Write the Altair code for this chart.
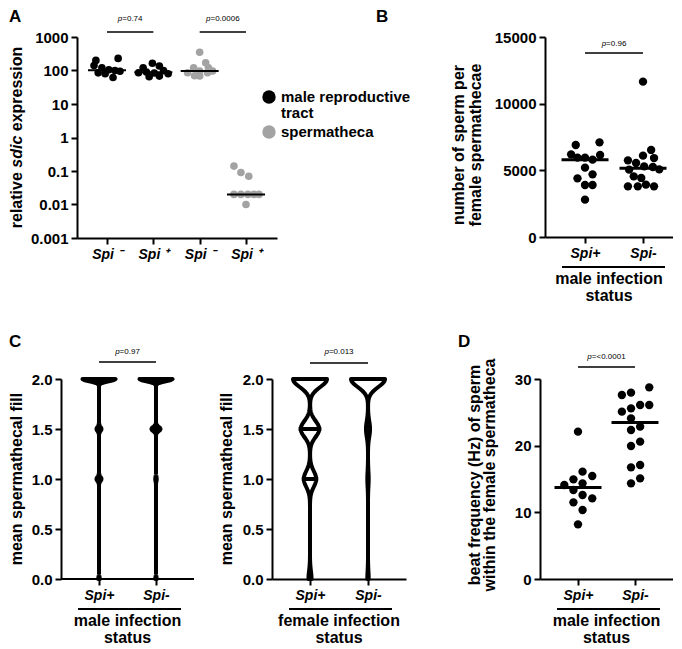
import json
import altair as alt
import pandas as pd

FONT = "Liberation Sans"
GREY = "#a3a3a3"

# ---------------- Panel A data ----------------
a_tick_labels = ["Spi \u207b", "Spi \u207a", "Spi \u207b", "Spi \u207a"]
a_tissues = ["male reproductive tract", "spermatheca"]
a_group_tissue = ["male reproductive tract", "male reproductive tract", "spermatheca", "spermatheca"]
a_y_ticks = [0.001, 0.01, 0.1, 1, 10, 100, 1000]
a_vals_1 = [200, 230, 140, 120, 105, 100, 95, 85, 80, 62]
a_jit_1 = [-0.24, 0.24, -0.28, -0.11, 0.04, 0.17, 0.28, -0.19, -0.04, 0.13]
a_vals_2 = [165, 121, 136, 86, 90, 84, 99, 80, 65, 68]
a_jit_2 = [-0.02, -0.22, 0.13, -0.32, -0.15, 0.02, 0.22, 0.32, -0.09, 0.13]
a_vals_3 = [350, 170, 121, 121, 86, 97, 86, 69, 97, 70]
a_jit_3 = [0.0, 0.13, -0.13, 0.19, -0.26, 0.0, 0.17, 0.0, 0.28, -0.11]
a_vals_4 = [0.14, 0.09, 0.07, 0.02, 0.02, 0.02, 0.02, 0.02, 0.01]
a_jit_4 = [-0.26, -0.11, 0.06, -0.26, -0.11, 0.04, 0.17, 0.28, 0.0]
a_pvals = ["=0.74", "=0.0006"]

# ---------------- Panel B data ----------------
cat_labels = ["Spi+", "Spi-"]
b_y_ticks = [0, 5000, 10000, 15000]
b_vals_plus = [6900, 7100, 6200, 5950, 5950, 5800, 6150, 5200, 4700, 4400, 3900, 3900, 2800]
b_jit_plus = [-0.16, 0.25, -0.24, -0.13, 0.0, 0.13, 0.26, 0.0, 0.13, -0.13, 0.0, 0.13, 0.0]
b_vals_minus = [11650, 6530, 6100, 5920, 5750, 5550, 5300, 5250, 5070, 5050, 4550, 4430, 3800, 3800, 3930, 3800]
b_jit_minus = [0.0, 0.14, 0.0, 0.19, -0.26, -0.12, 0.02, 0.17, 0.28, -0.24, -0.16, -0.03, -0.26, -0.09, 0.05, 0.19]
b_pval = "=0.96"

# ---------------- Panel C data ----------------
c_y_ticks = [0, 0.5, 1.0, 1.5, 2.0]
c_levels = [2.0, 1.5, 1.0, 0.0]
c1_counts_plus = [20, 3, 3, 1]
c1_counts_minus = [22, 6, 1, 1]
c2_counts_plus = [11, 6, 4, 1]
c2_counts_minus = [25, 3, 1, 1]
c2_lines_group = ["Spi+", "Spi+"]
c2_lines_value = [1.5, 1.0]
c1_pval = "=0.97"
c2_pval = "=0.013"

# ---------------- Panel D data ----------------
d_y_ticks = [0, 10, 20, 30]
d_vals_plus = [22.1, 16.1, 15.45, 14.95, 14.35, 14.1, 13.35, 12.6, 12.1, 11.5, 10.35, 8.2]
d_jit_plus = [0.0, 0.08, 0.25, -0.08, 0.08, -0.24, -0.08, 0.08, 0.25, -0.08, 0.08, 0.0]
d_vals_minus = [28.75, 27.6, 27.95, 25.1, 25.6, 26.1, 26.1, 24.1, 22.35, 22.85, 20.6, 19.95, 16.75, 17.1, 14.35, 15.1]
d_jit_minus = [0.25, -0.23, -0.07, -0.23, -0.07, 0.09, 0.25, -0.07, -0.07, 0.09, 0.09, -0.07, -0.07, 0.09, -0.07, 0.09]
d_pval = "=<0.0001"

ONE = pd.DataFrame({"k": [0]})
CW = {str(d): 556 for d in range(10)}
CW.update({".": 278, "=": 584, "<": 584})


def txt(text, x, y, size=16, weight="bold", style="normal", align="center",
        baseline="middle", angle=0):
    kw = dict(text=text, fontSize=size, fontWeight=weight, fontStyle=style,
              align=align, baseline=baseline, color="black", font=FONT)
    if angle:
        kw["angle"] = angle
    return alt.Chart(ONE).mark_text(**kw).encode(x=alt.value(x), y=alt.value(y))


def anchor(x, y):
    return alt.Chart(ONE).mark_text(text=".", fontSize=1, opacity=0, align="left",
                                    baseline="top").encode(x=alt.value(x), y=alt.value(y))


def cat_axis(labels, domain=True):
    expr = json.dumps(labels, ensure_ascii=False) + "[datum.value - 1]"
    return alt.Axis(values=list(range(1, len(labels) + 1)), labelExpr=expr,
                    labelFontStyle="italic", labelFontSize=14, labelFlush=False,
                    title=None, domain=domain)


def sig(x1, x2, ybar, ytext, ptxt, xs, xax):
    df = pd.DataFrame({"x1": [x1], "x2": [x2], "xm": [(x1 + x2) / 2]})
    wp = 0.556 * 8
    wr = sum(CW[c] for c in ptxt) / 1000 * 8
    left = -(wp + wr) / 2
    bar = alt.Chart(df).mark_rule(color="black", strokeWidth=1.6).encode(
        x=alt.X("x1:Q", scale=xs, axis=xax), x2="x2:Q", y=alt.value(ybar))
    tp = alt.Chart(df).mark_text(text="p", fontSize=8, fontStyle="italic", align="left",
                                 baseline="middle", dx=left, color="black").encode(
        x=alt.X("xm:Q", scale=xs, axis=xax), y=alt.value(ytext))
    tr = alt.Chart(df).mark_text(text=ptxt, fontSize=8, align="left", baseline="middle",
                                 dx=left + wp, color="black").encode(
        x=alt.X("xm:Q", scale=xs, axis=xax), y=alt.value(ytext))
    return [bar, tp, tr]


def caption(ax0, W, h, line1, line2):
    rule = alt.Chart(ONE).mark_rule(color="black", strokeWidth=2).encode(
        x=alt.value(ax0 + 17), x2=alt.value(ax0 + 120), y=alt.value(h + 30))
    return [rule, txt(line1, ax0 + W / 2, h + 42), txt(line2, ax0 + W / 2, h + 59)]


# ================= Panel A =================
rows = []
for gi, (vs, js, t) in enumerate(zip([a_vals_1, a_vals_2, a_vals_3, a_vals_4],
                                     [a_jit_1, a_jit_2, a_jit_3, a_jit_4], a_group_tissue), 1):
    for v, j in zip(vs, js):
        rows.append({"gi": gi, "value": v, "jit": j, "tissue": t})
dfA = pd.DataFrame(rows)

xsA = alt.Scale(domain=[0.3525, 4.669], nice=False, zero=False)
ysA = alt.Scale(type="log", domain=[0.001, 1000], nice=False)
xaxA = cat_axis(a_tick_labels)
yaxA = alt.Axis(values=a_y_ticks, format="~g", title=None)
ptsA = alt.Chart(dfA).transform_calculate(xpos="datum.gi + datum.jit").mark_circle(
    size=58, opacity=1).encode(
    x=alt.X("xpos:Q", scale=xsA, axis=xaxA),
    y=alt.Y("value:Q", scale=ysA, axis=yaxA),
    color=alt.Color("tissue:N", scale=alt.Scale(domain=a_tissues, range=["black", GREY]),
                    legend=None))
medA = alt.Chart(dfA).mark_tick(orient="horizontal", size=38, thickness=2, color="black").encode(
    x=alt.X("gi:Q", scale=xsA, axis=xaxA),
    y=alt.Y("median(value):Q", scale=ysA, axis=yaxA))

# y title with italic gene name
fs = 16
w1 = (3502 + 278) / 1000 * fs
w2 = (2001 + 278) / 1000 * fs
w3 = 5280 / 1000 * fs
ybot = 100.5 + (w1 + w2 + w3) / 2
titleA = [
    txt("relative", -60, ybot, align="left", angle=270),
    txt("sdic", -60, ybot - w1, align="left", angle=270, style="italic"),
    txt("expression", -60, ybot - w1 - w2, align="left", angle=270),
]
legendA = [
    alt.Chart(ONE).mark_circle(size=180, color="black", opacity=1).encode(
        x=alt.value(192), y=alt.value(60)),
    alt.Chart(ONE).mark_circle(size=180, color=GREY, opacity=1).encode(
        x=alt.value(192), y=alt.value(95)),
    txt("male reproductive", 204, 60, size=15, align="left"),
    txt("tract", 204, 76, size=15, align="left"),
    txt("spermatheca", 204, 95, size=15, align="left"),
]
panelA = alt.layer(
    ptsA, medA,
    *sig(1, 2, -5, -18, a_pvals[0], xsA, xaxA),
    *sig(3, 4, -5, -18, a_pvals[1], xsA, xaxA),
    *titleA, *legendA,
    txt("A", -68, -28, size=17, align="left", baseline="top"),
).properties(width=200, height=201)


# ================= dot panels (B, D) =================
def dot_panel(vals, jits, xdom, w, h, ydom, yticks, yfmt, size, medlen,
              title_lines, title_xs, title_y, pval, ybar, ytext,
              letter, letter_x, letter_y, extra=()):
    rows = []
    for gi, (vs, js) in enumerate(zip(vals, jits), 1):
        for v, j in zip(vs, js):
            rows.append({"gi": gi, "value": v, "jit": j})
    df = pd.DataFrame(rows)
    xs = alt.Scale(domain=xdom, nice=False, zero=False)
    ys = alt.Scale(domain=ydom, nice=False, zero=False)
    xax = cat_axis(cat_labels)
    yax = alt.Axis(values=yticks, format=yfmt, title=None)
    pts = alt.Chart(df).transform_calculate(xpos="datum.gi + datum.jit").mark_circle(
        size=size, color="black", opacity=1).encode(
        x=alt.X("xpos:Q", scale=xs, axis=xax),
        y=alt.Y("value:Q", scale=ys, axis=yax))
    med = alt.Chart(df).mark_tick(orient="horizontal", size=medlen, thickness=3,
                                  color="black").encode(
        x=alt.X("gi:Q", scale=xs, axis=xax),
        y=alt.Y("median(value):Q", scale=ys, axis=yax))
    titles = [txt(t, x, title_y, angle=270) for t, x in zip(title_lines, title_xs)]
    layers = [pts, med, *sig(1, 2, ybar, ytext, pval, xs, xax), *titles,
              txt(letter, letter_x, letter_y, size=17, align="left", baseline="top"),
              *caption(0, w, h, "male infection", "status"), *extra]
    return alt.layer(*layers).properties(width=w, height=h)


panelB = dot_panel([b_vals_plus, b_vals_minus], [b_jit_plus, b_jit_minus],
                   [0.31, 2.517], 128, 200, [0, 15000], b_y_ticks, "d", 70, 47,
                   ["number of sperm per", "female spermathecae"], [-86, -69.5], 108,
                   b_pval, 16, 7, "B", -169, -28)

panelD = dot_panel([d_vals_plus, d_vals_minus], [d_jit_plus, d_jit_minus],
                   [1 / 3, 8 / 3], 133, 200, [0, 30], d_y_ticks, "d", 70, 47,
                   ["beat frequency (Hz) of sperm", "within the female spermatheca"],
                   [-65, -50], 96, d_pval, -12, -22, "D", -82, -45,
                   extra=[anchor(-134, -45)])


# ================= violin panels (C) =================
def violin_panel(counts_list, bw, xdom, w, h, half, ax0, ytitle_x, pval, ybar, ytext,
                 cap2, fill="white", lines=(), letter=None, extra=()):
    rows = []
    for gi, counts in enumerate(counts_list, 1):
        for lvl, n in zip(c_levels, counts):
            rows += [{"group": cat_labels[gi - 1], "gi": gi, "value": lvl}] * n
    df = pd.DataFrame(rows)
    xs = alt.Scale(domain=xdom, nice=False, zero=False)
    ys = alt.Scale(domain=[0, 2], nice=False, zero=False)
    xax = cat_axis(cat_labels, domain=(ax0 == 0))
    yax = alt.Axis(values=c_y_ticks, format=".1f", title=None, offset=-ax0)
    base = alt.Chart(df).transform_density(
        "value", groupby=["group", "gi"], bandwidth=bw, extent=[0, 2], steps=400,
        as_=["value", "density"]
    ).transform_joinaggregate(dmax="max(density)", groupby=["group"]).transform_calculate(
        left=f"datum.gi - {half} * datum.density / datum.dmax",
        right=f"datum.gi + {half} * datum.density / datum.dmax")
    area = base.mark_area(orient="horizontal", fill=fill, stroke="black", strokeWidth=4,
                          opacity=1, strokeJoin="round").encode(
        y=alt.Y("value:Q", scale=ys, axis=yax),
        x=alt.X("left:Q", scale=xs, axis=xax),
        x2="right:Q", detail="group:N")
    layers = [area]
    if lines:
        cond = " || ".join(f"(datum.group == '{g}' && abs(datum.value - {v}) < 0.002)"
                           for g, v in lines)
        layers.append(base.transform_filter(cond).mark_rule(
            color="black", strokeWidth=4, strokeCap="square").encode(
            y=alt.Y("value:Q", scale=ys, axis=yax),
            x=alt.X("left:Q", scale=xs, axis=xax), x2="right:Q"))
    if ax0 != 0:
        layers.append(alt.Chart(ONE).mark_rule(color="black", strokeWidth=2).encode(
            x=alt.value(ax0), x2=alt.value(w), y=alt.value(h)))
    layers += sig(1, 2, ybar, ytext, pval, xs, xax)
    layers.append(txt("mean spermathecal fill", ytitle_x, h / 2, angle=270))
    layers += caption(ax0, w - ax0, h, cap2, "status")
    if letter:
        layers.append(txt(letter, -68, -45, size=17, align="left", baseline="top"))
    layers += list(extra)
    return alt.layer(*layers).properties(width=w, height=h)


panelC1 = violin_panel([c1_counts_plus, c1_counts_minus], 0.022, [0.614, 2.667], 117, 200,
                       0.29, -16, -60, c1_pval, -17, -27, "male infection",
                       fill="black", letter="C")
panelC2 = violin_panel([c2_counts_plus, c2_counts_minus], 0.08, [0.345, 2.655], 134, 200,
                       0.293, 0, -45, c2_pval, -16, -27, "female infection",
                       lines=list(zip(c2_lines_group, c2_lines_value)),
                       extra=[anchor(-77, -45)])

top = alt.hconcat(panelA, panelB, spacing=268, bounds="flush")
bottom = alt.hconcat(panelC1, panelC2, panelD, spacing=0)

chart = alt.vconcat(top, bottom, spacing=29).properties(
    padding=0, background="white"
).configure(font=FONT).configure_view(strokeWidth=0).configure_axis(
    domainColor="black", domainWidth=2, tickColor="black", tickWidth=2, tickSize=6,
    labelColor="black", labelFontSize=15, labelFontWeight="bold", labelPadding=3,
    labelFont=FONT, grid=False
)

chart.save("out.html", embed_options={"renderer": "svg", "actions": False})
